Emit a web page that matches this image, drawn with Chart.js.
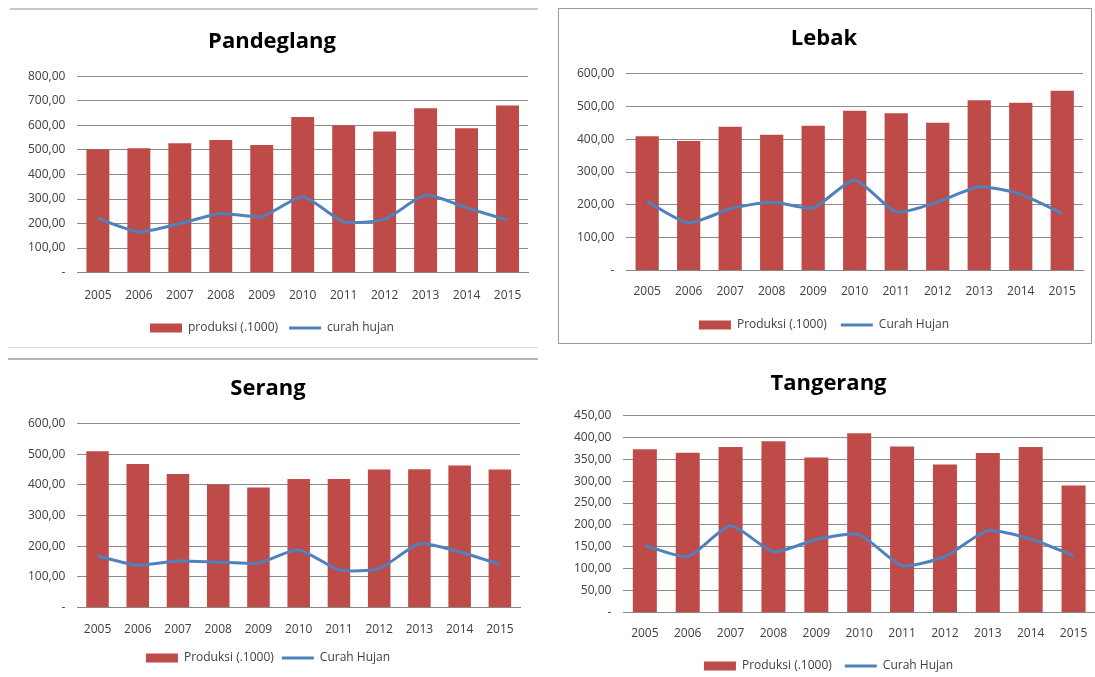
<!DOCTYPE html>
<html>
<head>
<meta charset="utf-8">
<title>Produksi dan Curah Hujan</title>
<script src="https://cdn.jsdelivr.net/npm/chart.js@4"></script>
<style>
body{margin:0;background:#fff;width:1095px;height:677px;position:relative;overflow:hidden}
.box{position:absolute}
#b1{left:10px;top:8px;width:528px;height:334px;border-top:2px solid #c8c8c8}
#b2{left:558px;top:8px;width:534px;height:336px;border:1px solid #9a9a9a;box-sizing:border-box}
#b3{left:8px;top:358px;width:530px;height:314px;border-top:2px solid #b4b4b4}
#b4{left:556px;top:352px;width:539px;height:330px}
#topline{position:absolute;left:8px;top:347px;width:530px;border-top:1px solid #dcdcdc}
</style>
</head>
<body>
<div id="topline"></div>
<div class="box" id="b1"><canvas id="pandeglang"></canvas></div>
<div class="box" id="b2"><canvas id="lebak"></canvas></div>
<div class="box" id="b3"><canvas id="serang"></canvas></div>
<div class="box" id="b4"><canvas id="tangerang"></canvas></div>
<script>
var tahun = ['2005','2006','2007','2008','2009','2010','2011','2012','2013','2014','2015'];

var pandeglangProduksi = [503,507,527,541,520,634,601,575,670,589,681];
var pandeglangHujan    = [221,166,200,241,228,309,207,218,316,264,214];

var lebakProduksi = [409,394,438,413,441,486,479,450,518,511,547];
var lebakHujan    = [210,145,188,209,191,276,178,209,255,232,174];

var serangProduksi = [509,468,435,401,391,419,419,450,451,463,450];
var serangHujan    = [168,138,152,148,145,188,123,127,208,181,141];

var tangerangProduksi = [373,365,378,391,354,409,379,338,364,378,290];
var tangerangHujan    = [153,128,198,139,167,178,107,128,187,168,130];

var merah = '#BE4B48', biru = '#4F81BD';
var huruf = "'Open Sans', 'Liberation Sans', sans-serif";

function angka(v){
	if(v==0) return '-';
	return v.toFixed(2).replace('.',',');
}

// s: jarak-jarak tiap grafik (judul, tick x, legenda, padding luar)
function grafik(id, judul, prod, hujan, maks, langkah, nama, s){
	var ctx = document.getElementById(id).getContext('2d');
	var datas = {
		labels: tahun,
		datasets: [{
			type: 'line',
			label: nama[1],
			data: hujan,
			borderColor: biru,
			backgroundColor: biru,
			borderWidth: 3,
			pointRadius: 0,
			tension: 0.2,
			order: 0
		},{
			type: 'bar',
			label: nama[0],
			data: prod,
			backgroundColor: merah,
			barPercentage: 0.56,
			categoryPercentage: 1,
			order: 1
		}]
	};
	return new Chart(ctx, {
		data: datas,
		options: {
			responsive: true,
			maintainAspectRatio: false,
			animation: false,
			layout: { padding: s.pad },
			plugins: {
				title: {
					display: true,
					text: judul,
					color: '#000',
					font: { family: huruf, size: 22, weight: 'bold' },
					padding: { top: s.tTop, bottom: s.tBot }
				},
				legend: {
					position: 'bottom',
					reverse: true,
					labels: {
						color: '#404040',
						font: { family: huruf, size: 12 },
						usePointStyle: true,
						pointStyleWidth: 32,
						boxHeight: 9,
						padding: s.leg,
						generateLabels: function(chart){
							var items = Chart.defaults.plugins.legend.labels.generateLabels(chart);
							items.forEach(function(it){
								it.pointStyle = it.datasetIndex == 0 ? 'line' : 'rect';
							});
							return items;
						}
					}
				},
				tooltip: { enabled: false }
			},
			scales: {
				x: {
					grid: { display: false },
					border: { color: '#868686' },
					ticks: { color: '#404040', font: { family: huruf, size: 12 }, padding: s.xPad, maxRotation: 0 }
				},
				y: {
					min: 0,
					max: maks,
					grid: { color: '#8a8a8a', drawTicks: false },
					border: { display: false },
					ticks: {
						stepSize: langkah,
						color: '#404040',
						font: { family: huruf, size: 12 },
						padding: 12,
						callback: angka
					}
				}
			}
		}
	});
}

grafik('pandeglang', 'Pandeglang', pandeglangProduksi, pandeglangHujan, 800, 100,
	['produksi (.1000)', 'curah hujan'],
	{ tTop: 5, tBot: 21, xPad: 8, leg: 11, pad: { left: 6, right: 10, top: 14, bottom: 0 } });
grafik('lebak', 'Lebak', lebakProduksi, lebakHujan, 600, 100,
	['Produksi (.1000)', 'Curah Hujan'],
	{ tTop: 3, tBot: 21, xPad: 6, leg: 14, pad: { left: 6, right: 8, top: 14, bottom: 2 } });
grafik('serang', 'Serang', serangProduksi, serangHujan, 600, 100,
	['Produksi (.1000)', 'Curah Hujan'],
	{ tTop: 4, tBot: 21, xPad: 7, leg: 8, pad: { left: 8, right: 18, top: 12, bottom: 0 } });
grafik('tangerang', 'Tangerang', tangerangProduksi, tangerangHujan, 450, 50,
	['Produksi (.1000)', 'Curah Hujan'],
	{ tTop: 7, tBot: 18, xPad: 6, leg: 13, pad: { left: 6, right: 0, top: 12, bottom: 0 } });
</script>
</body>
</html>
